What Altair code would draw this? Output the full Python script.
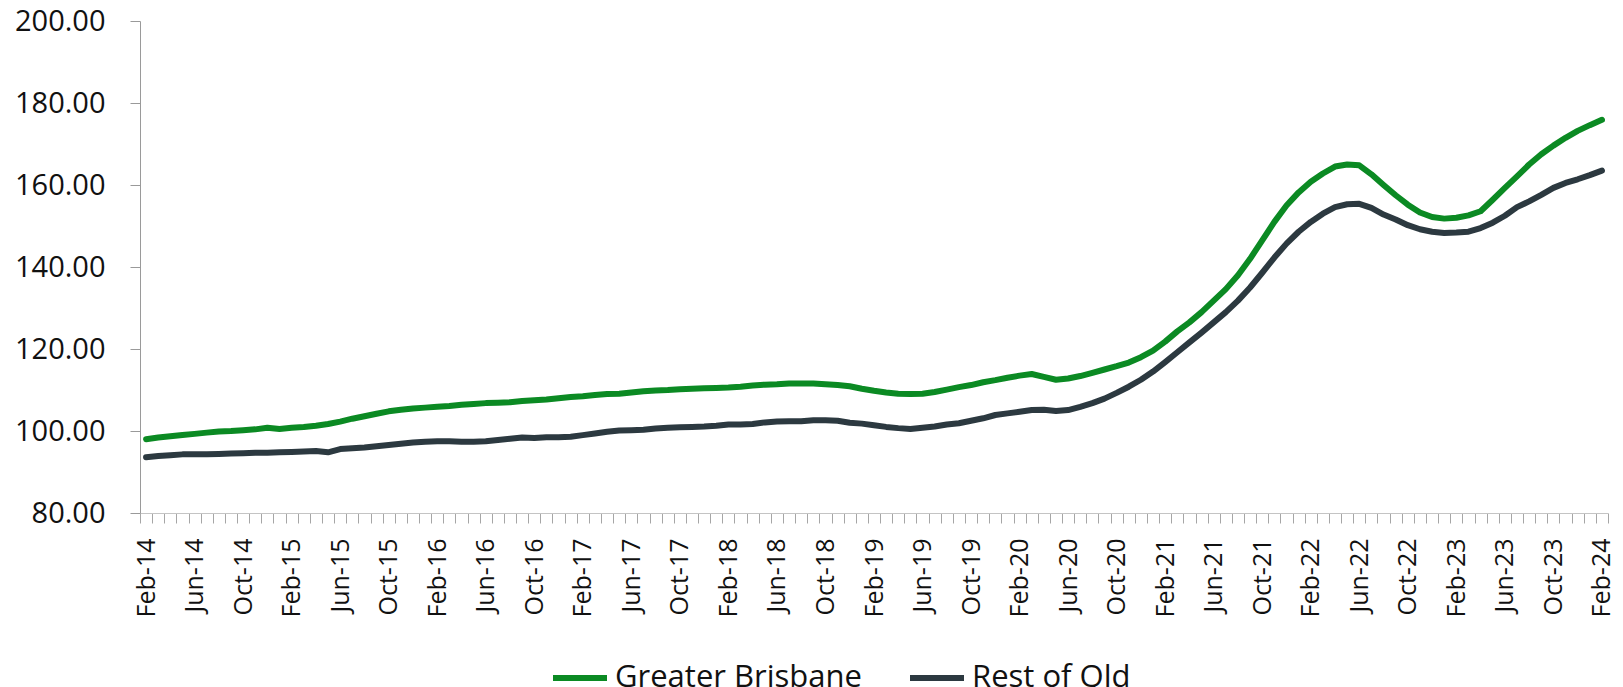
import altair as alt
import pandas as pd

month_names = ["Jan", "Feb", "Mar", "Apr", "May", "Jun", "Jul", "Aug", "Sep", "Oct", "Nov", "Dec"]
# Monthly categories Feb-14 .. Feb-24
months = []
for yr in range(14, 25):
    for m in month_names:
        lab = f"{m}-{yr}"
        months.append(lab)
months = months[months.index("Feb-14"):months.index("Feb-24") + 1]

greater_brisbane = [
    98.0, 98.4, 98.7, 99.0, 99.3, 99.6, 99.9, 100.0, 100.2, 100.4, 100.8, 100.5,
    100.8, 101.0, 101.3, 101.7, 102.3, 103.0, 103.6, 104.2, 104.8, 105.2, 105.5, 105.7,
    105.9, 106.1, 106.4, 106.6, 106.8, 106.9, 107.0, 107.3, 107.5, 107.7, 108.0, 108.3,
    108.5, 108.8, 109.0, 109.1, 109.4, 109.7, 109.9, 110.0, 110.2, 110.3, 110.4, 110.5,
    110.6, 110.8, 111.1, 111.3, 111.4, 111.6, 111.6, 111.6, 111.4, 111.2, 110.9, 110.3,
    109.8, 109.4, 109.1, 109.0, 109.1, 109.5, 110.1, 110.7, 111.2, 111.9, 112.4, 113.0,
    113.5, 113.9, 113.2, 112.5, 112.8, 113.4, 114.2, 115.0, 115.8, 116.7, 118.0, 119.6,
    121.8, 124.3, 126.5, 129.0, 131.8, 134.6, 138.0, 142.0, 146.5, 151.0, 155.0, 158.2,
    160.8, 162.8, 164.5, 165.0, 164.8, 162.6, 160.0, 157.5, 155.2, 153.3, 152.2, 151.8,
    152.0, 152.6, 153.6, 156.4, 159.3, 162.1, 165.0, 167.5, 169.6, 171.5, 173.2, 174.6,
    175.9,
]

rest_of_qld = [
    93.6, 93.9, 94.1, 94.3, 94.3, 94.3, 94.4, 94.5, 94.6, 94.7, 94.7, 94.8,
    94.9, 95.0, 95.1, 94.8, 95.6, 95.8, 96.0, 96.3, 96.6, 96.9, 97.2, 97.4,
    97.5, 97.5, 97.4, 97.4, 97.5, 97.8, 98.1, 98.4, 98.3, 98.5, 98.5, 98.6,
    99.0, 99.4, 99.8, 100.1, 100.2, 100.3, 100.6, 100.8, 100.9, 101.0, 101.1, 101.3,
    101.6, 101.6, 101.7, 102.1, 102.3, 102.4, 102.4, 102.6, 102.6, 102.5, 102.0, 101.8,
    101.4, 101.0, 100.7, 100.5, 100.8, 101.1, 101.6, 101.9, 102.5, 103.1, 103.9, 104.3,
    104.7, 105.1, 105.2, 104.9, 105.1, 105.9, 106.8, 107.9, 109.3, 110.8, 112.5, 114.5,
    116.8, 119.2, 121.6, 124.0, 126.5, 129.0, 131.8, 135.0, 138.6, 142.3, 145.7, 148.6,
    151.0, 153.0, 154.6, 155.3, 155.4, 154.4, 152.8, 151.6, 150.2, 149.2, 148.6, 148.3,
    148.4, 148.6, 149.5, 150.8, 152.5, 154.6, 156.0, 157.6, 159.3, 160.5, 161.4, 162.4,
    163.5,
]

series_names = ["Greater Brisbane", "Rest of Qld"]
series_colors = ["#0B8A23", "#2C3940"]
y_ticks = [80, 100, 120, 140, 160, 180, 200]

df = pd.DataFrame({
    "month": months + months,
    "value": greater_brisbane + rest_of_qld,
    "series": [series_names[0]] * len(months) + [series_names[1]] * len(months),
})

FONT = "Open Sans"

chart = alt.Chart(df).mark_line(
    strokeWidth=6, strokeJoin="round", strokeCap="round"
).encode(
    x=alt.X(
        "month:N",
        sort=months,
        bandPosition=0.5,
        scale=alt.Scale(type="band", paddingInner=0, paddingOuter=0),
        axis=alt.Axis(
            title=None,
            labelAngle=270,
            labelAlign="right",
            labelBaseline="middle",
            labelExpr="indexof(['Feb','Jun','Oct'], slice(datum.label, 0, 3)) >= 0 ? datum.label : ''",
            tickBand="extent",
            tickSize=10,
            tickColor="#a6a6a6",
            domainColor="#c4c4c4",
            labelPadding=15,
            labelFontSize=25,
            labelFont=FONT,
            labelColor="#111111",
            labelOverlap=False,
            labelFlush=False,
        ),
    ),
    y=alt.Y(
        "value:Q",
        scale=alt.Scale(domain=[80, 200], nice=False, zero=False),
        axis=alt.Axis(
            title=None,
            values=y_ticks,
            format=".2f",
            grid=False,
            tickSize=10,
            tickColor="#9a9a9a",
            domainColor="#9a9a9a",
            labelPadding=25,
            labelFontSize=29,
            labelFont=FONT,
            labelColor="#111111",
            minExtent=132,
            maxExtent=132,
        ),
    ),
    color=alt.Color(
        "series:N",
        scale=alt.Scale(domain=series_names, range=series_colors),
        legend=alt.Legend(
            title=None,
            orient="none",
            legendX=410,
            legendY=627,
            direction="horizontal",
            symbolType="stroke",
            symbolSize=2916,
            symbolStrokeWidth=6,
            labelFontSize=31,
            labelFont=FONT,
            labelColor="#111111",
            labelLimit=500,
            labelOffset=5,
            columnPadding=36,
            padding=0,
        ),
    ),
).properties(
    width=1468,
    height=492,
    autosize=alt.AutoSizeParams(type="none"),
    padding={"left": 132, "top": 13, "right": 7, "bottom": 174},
).configure_view(
    stroke=None
)

chart.save("out.html", embed_options={"renderer": "svg", "actions": False})
